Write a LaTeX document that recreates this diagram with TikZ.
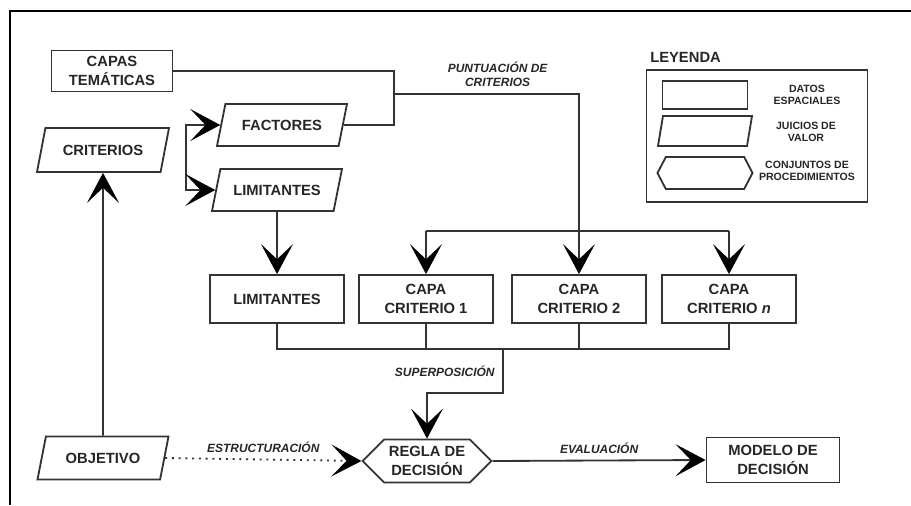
\documentclass[tikz,border=0pt]{standalone}
\usepackage{fontspec}
\setmainfont{Liberation Sans}
\usetikzlibrary{arrows.meta,shapes.geometric,shapes.symbols}
\definecolor{ink}{HTML}{333333}
\begin{document}
\begin{tikzpicture}[x=0.25mm, y=-0.25mm,
    datos/.style={draw=ink, line width=1.3pt, minimum width=33.5mm, minimum height=12mm, align=center, text=black!85, font=\bfseries\fontsize{10.5}{13}\selectfont},
    juicio/.style={trapezium, trapezium left angle=67, trapezium right angle=113, trapezium stretches body, draw=ink, line width=1.3pt, minimum width=32.5mm, minimum height=10.5mm, align=center, text=black!85, font=\bfseries\fontsize{10.5}{13}\selectfont},
    proc/.style={signal, signal to=west and east, signal pointer angle=90, draw=ink, line width=1.3pt, minimum width=32mm, minimum height=10.75mm, align=center, text=black!85, font=\bfseries\fontsize{10.5}{13}\selectfont},
    lbl/.style={text=black!85, align=center, font=\bfseries\itshape\fontsize{8.5}{10}\selectfont},
    leg/.style={text=black!85, align=center, font=\bfseries\fontsize{7.5}{8.5}\selectfont},
    line/.style={draw=ink, line width=1.3pt},
    arrow/.style={line, -{Stealth[length=7.5mm, width=8mm, inset=3.8mm, color=black]}},
    twoarrow/.style={line, {Stealth[length=7.5mm, width=8mm, inset=3.8mm, color=black]}-{Stealth[length=7.5mm, width=8mm, inset=3.8mm, color=black]}}
]
    \useasboundingbox (0,0) rectangle (911,505);
    \draw[line width=1.6pt] (911,11) -| (10,505);

    % left column
    \node[datos, minimum width=30.25mm, minimum height=10.25mm] (capas) at (112,71) {CAPAS\\TEMÁTICAS};
    \node[juicio, minimum width=33mm, minimum height=11mm] (criterios) at (103,150) {CRITERIOS};
    \node[juicio, minimum width=32.75mm, minimum height=10.75mm] (objetivo) at (103,458) {OBJETIVO};
    \node[juicio] (factores) at (282,125) {FACTORES};
    \node[juicio] (limp) at (277,190) {LIMITANTES};

    % layers
    \node[datos] (lim) at (277,299) {LIMITANTES};
    \node[datos] (cc1) at (426,299) {CAPA\\CRITERIO 1};
    \node[datos] (cc2) at (579,299) {CAPA\\CRITERIO 2};
    \node[datos] (ccn) at (729,299) {CAPA\\CRITERIO \textit{n}};

    % bottom row
    \node[proc] (regla) at (427,461) {REGLA DE\\DECISIÓN};
    \node[datos, minimum width=33.25mm, minimum height=11.25mm] (modelo) at (773,460) {MODELO DE\\DECISIÓN};

    % legend
    \node[font=\bfseries\fontsize{10.5}{13}\selectfont, text=black!85, anchor=west, inner sep=0pt] (leyenda) at (650,57) {LEYENDA};
    \node[draw=ink, line width=1.3pt, minimum width=55.25mm, minimum height=33mm] (legbox) at (757,136) {};
    \node[datos, minimum width=21.25mm, minimum height=7mm] (legdat) at (705,95) {};
    \node[juicio, minimum width=23.5mm, minimum height=7.5mm, trapezium left angle=62, trapezium right angle=118] (legjui) at (705,131) {};
    \node[proc, minimum width=23.75mm, minimum height=8mm, signal pointer angle=125] (legproc) at (705,173) {};
    \node[leg] (txtdat) at (807,95) {DATOS\\ESPACIALES};
    \node[leg] (txtjui) at (806,132) {JUICIOS DE\\VALOR};
    \node[leg] (txtproc) at (807,171) {CONJUNTOS DE\\PROCEDIMIENTOS};

    \coordinate (punt) at (394,94);
    \coordinate (brk) at (186,157);
    \coordinate (dl) at (426,231);
    \coordinate (dr) at (729,231);
    \coordinate (colL) at (277,349);
    \coordinate (colR) at (729,349);
    \coordinate (sup) at (503,349);

    \draw[line] (capas.east) -| (punt) |- (factores.east);
    \draw[arrow] (punt) -| node[pos=0.28, above=1pt, lbl] {PUNTUACIÓN DE\\CRITERIOS} (cc2.north);
    \draw[twoarrow] (factores.west) -| (brk) |- (limp.west);
    \draw[arrow] (limp.south) -- (lim.north);
    \draw[line] (dl) -- (dr);
    \draw[arrow] (dl) -- (cc1.north);
    \draw[arrow] (dr) -- (ccn.north);
    \draw[line] (lim.south) -- (colL) -- (colR) -- (ccn.south);
    \draw[line] (cc1.south) -- (cc1.south |- colL);
    \draw[line] (cc2.south) -- (cc2.south |- colL);
    \draw[arrow] (sup) -- node[left=2pt, lbl] {SUPERPOSICIÓN} ++(0,44) -| (regla.north);
    \draw[arrow] (objetivo.north) -- (criterios.south);
    \draw[arrow, dash pattern=on 1.3pt off 3.5pt] (objetivo.east) -- node[midway, above=1pt, lbl] {ESTRUCTURACIÓN} (regla.west);
    \draw[arrow] (regla.east) -- node[midway, above=1pt, lbl] {EVALUACIÓN} (modelo.west);
\end{tikzpicture}
\end{document}
